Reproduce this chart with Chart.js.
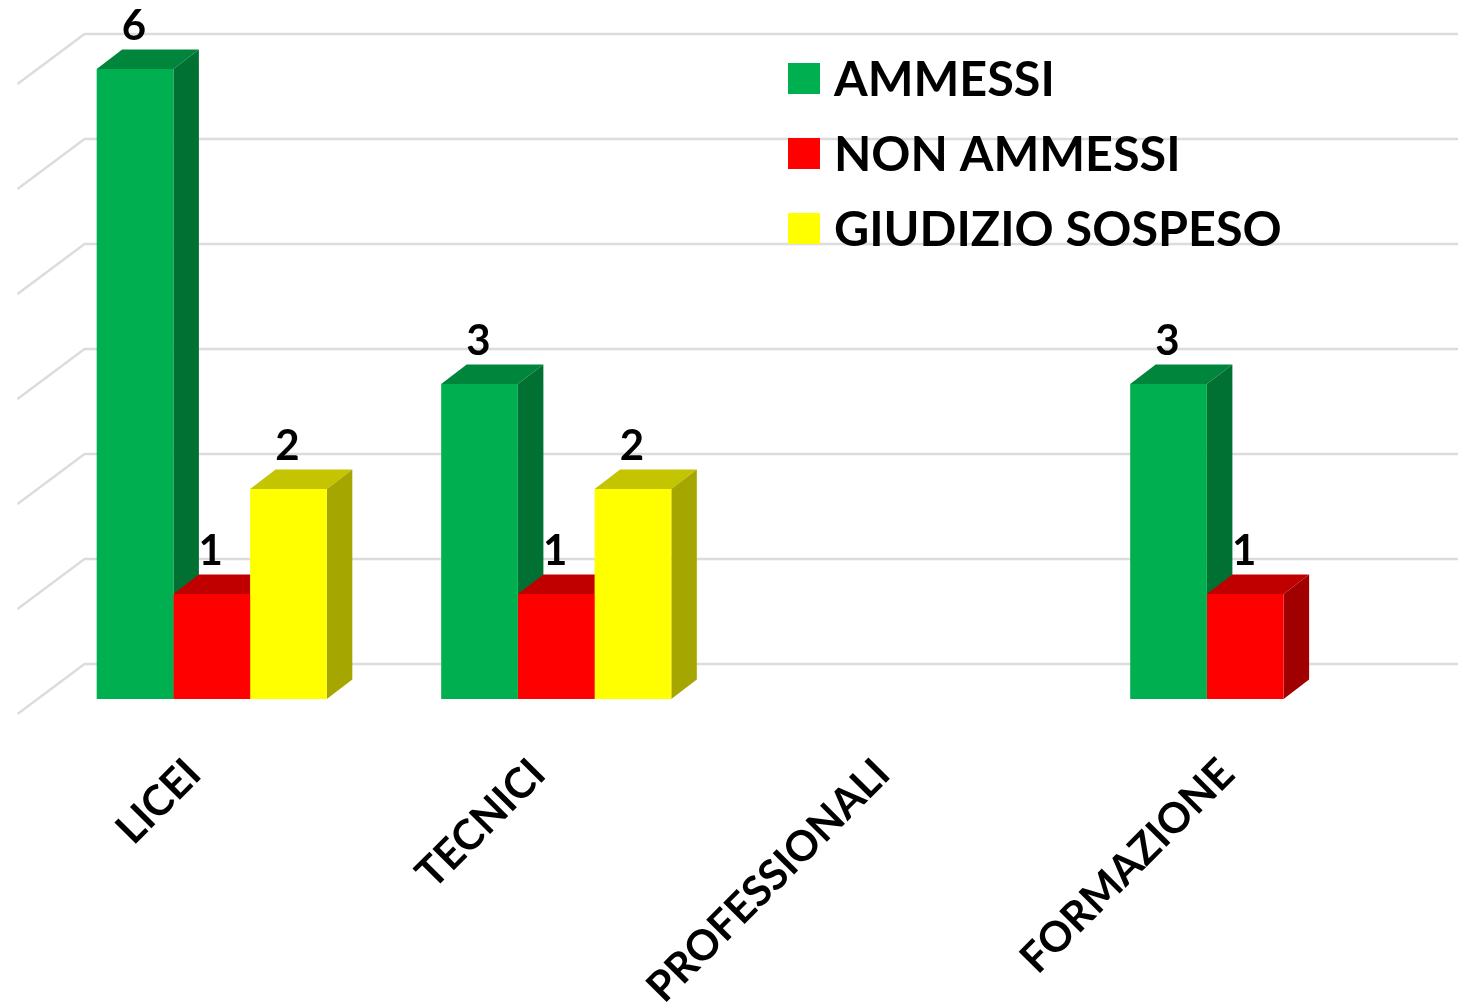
<!DOCTYPE html>
<html>
<head>
<meta charset="utf-8">
<title>Esiti</title>
<script src="https://cdn.jsdelivr.net/npm/chart.js@4"></script>
<style>
    html, body { margin: 0; padding: 0; background: #ffffff; }
    canvas { display: block; }
</style>
</head>
<body>
<canvas id="esitiChart" width="1458" height="1004"></canvas>
<script>
const categories = ['LICEI', 'TECNICI', 'PROFESSIONALI', 'FORMAZIONE'];
const ammessi = [6, 3, null, 3];
const nonAmmessi = [1, 1, null, 1];
const giudizioSospeso = [2, 2, null, null];
const yTicks = [0, 1, 2, 3, 4, 5, 6];

const fontFamily = 'Lato, "Open Sans", sans-serif';
const barShades = [
    { front: '#00b050', top: '#00853c', side: '#007033' },
    { front: '#ff0000', top: '#c00000', side: '#a00000' },
    { front: '#ffff00', top: '#c4c400', side: '#a6a600' }
];

// Fake 3D depth, same look as the office chart
const depthX = 25.5;
const depthY = 19.5;
const wallX = 67;
const wallBack = 35;
const wallFront = 15;

const wallPlugin = {
    id: 'wall',
    beforeDatasetsDraw(chart) {
        const ctx = chart.ctx;
        const scale = chart.scales.y;
        const backX = chart.chartArea.left + 45;
        ctx.save();
        ctx.strokeStyle = '#dcdcdc';
        ctx.lineWidth = 2.4;
        scale.ticks.forEach(tick => {
            const y = scale.getPixelForValue(tick.value);
            ctx.beginPath();
            ctx.moveTo(backX - wallX, y + wallFront);
            ctx.lineTo(backX, y - wallBack);
            ctx.lineTo(chart.width, y - wallBack);
            ctx.stroke();
        });
        ctx.restore();
    }
};

// Top and side faces go down first, left to right, the bar fronts then cover them
const depthPlugin = {
    id: 'depth',
    beforeDatasetsDraw(chart) {
        const ctx = chart.ctx;
        chart.data.datasets.forEach((dataset, d) => {
            const shade = barShades[d];
            chart.getDatasetMeta(d).data.forEach((bar, i) => {
                if (dataset.data[i] === null) return;
                const left = bar.x - bar.width / 2;
                const right = bar.x + bar.width / 2;
                ctx.fillStyle = shade.top;
                ctx.beginPath();
                ctx.moveTo(left, bar.y);
                ctx.lineTo(left + depthX, bar.y - depthY);
                ctx.lineTo(right + depthX, bar.y - depthY);
                ctx.lineTo(right, bar.y);
                ctx.closePath();
                ctx.fill();
                ctx.fillStyle = shade.side;
                ctx.beginPath();
                ctx.moveTo(right, bar.y);
                ctx.lineTo(right + depthX, bar.y - depthY);
                ctx.lineTo(right + depthX, bar.base - depthY);
                ctx.lineTo(right, bar.base);
                ctx.closePath();
                ctx.fill();
            });
        });
    }
};

const labelsPlugin = {
    id: 'valueLabels',
    afterDatasetsDraw(chart) {
        const ctx = chart.ctx;
        ctx.save();
        ctx.fillStyle = '#000000';
        ctx.font = 'bold 42px ' + fontFamily;
        ctx.textAlign = 'center';
        ctx.textBaseline = 'alphabetic';
        chart.data.datasets.forEach((dataset, d) => {
            chart.getDatasetMeta(d).data.forEach((bar, i) => {
                if (dataset.data[i] === null) return;
                ctx.fillText(String(dataset.data[i]), bar.x - 1, bar.y - 29);
            });
        });
        ctx.restore();
    }
};

const legendPlugin = {
    id: 'cornerLegend',
    afterDraw(chart) {
        const ctx = chart.ctx;
        ctx.save();
        ctx.font = 'bold 48.5px ' + fontFamily;
        ctx.textAlign = 'left';
        ctx.textBaseline = 'alphabetic';
        chart.data.datasets.forEach((dataset, d) => {
            const rowY = 63 + d * 75;
            ctx.fillStyle = dataset.backgroundColor;
            ctx.fillRect(788, rowY, 32, 31);
            ctx.fillStyle = '#000000';
            ctx.fillText(dataset.label, 834, rowY + 33);
        });
        ctx.restore();
    }
};

new Chart(document.getElementById('esitiChart'), {
    type: 'bar',
    data: {
        labels: categories,
        datasets: [
            { label: 'AMMESSI', data: ammessi, backgroundColor: barShades[0].front },
            { label: 'NON AMMESSI', data: nonAmmessi, backgroundColor: barShades[1].front },
            { label: 'GIUDIZIO SOSPESO', data: giudizioSospeso, backgroundColor: barShades[2].front }
        ]
    },
    options: {
        responsive: false,
        animation: false,
        layout: { padding: { top: 69, left: 39.5, right: 40.5, bottom: 0 } },
        plugins: {
            legend: { display: false },
            tooltip: { enabled: false }
        },
        datasets: {
            bar: { barPercentage: 1, categoryPercentage: 0.668 }
        },
        scales: {
            x: {
                grid: { display: false },
                border: { display: false },
                afterFit(scale) { scale.height = 305; },
                ticks: {
                    autoSkip: false,
                    minRotation: 45,
                    maxRotation: 45,
                    padding: 42,
                    labelOffset: -18,
                    color: '#000000',
                    font: { family: fontFamily, size: 42, weight: 'bold' }
                }
            },
            y: {
                min: 0,
                max: 6,
                grid: { display: false },
                border: { display: false },
                afterFit(scale) { scale.width = 0; },
                afterBuildTicks(scale) { scale.ticks = yTicks.map(v => ({ value: v })); },
                ticks: { display: false }
            }
        }
    },
    plugins: [wallPlugin, depthPlugin, labelsPlugin, legendPlugin]
});
</script>
</body>
</html>
